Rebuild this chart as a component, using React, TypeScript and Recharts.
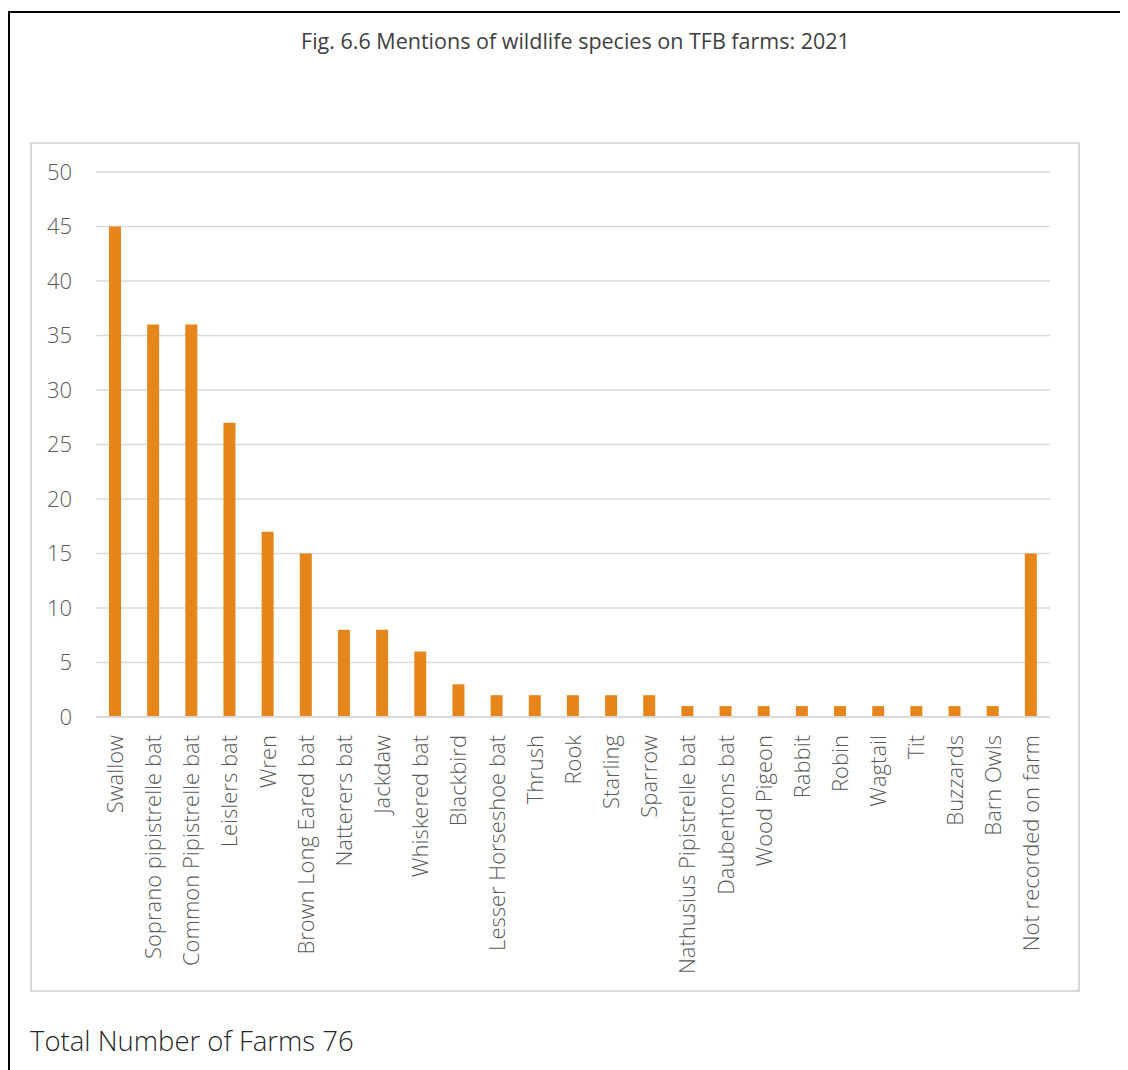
import React from "react";
import { BarChart, Bar, XAxis, YAxis, CartesianGrid } from "recharts";

const species = [
  "Swallow",
  "Soprano pipistrelle bat",
  "Common Pipistrelle bat",
  "Leislers bat",
  "Wren",
  "Brown Long Eared bat",
  "Natterers bat",
  "Jackdaw",
  "Whiskered bat",
  "Blackbird",
  "Lesser Horseshoe bat",
  "Thrush",
  "Rook",
  "Starling",
  "Sparrow",
  "Nathusius Pipistrelle bat",
  "Daubentons bat",
  "Wood Pigeon",
  "Rabbit",
  "Robin",
  "Wagtail",
  "Tit",
  "Buzzards",
  "Barn Owls",
  "Not recorded on farm",
];

const mentions = [45, 36, 36, 27, 17, 15, 8, 8, 6, 3, 2, 2, 2, 2, 2, 1, 1, 1, 1, 1, 1, 1, 1, 1, 15];

const yTicks = [0, 5, 10, 15, 20, 25, 30, 35, 40, 45, 50];

const data = species.map((name, i) => ({ name, value: mentions[i] }));

const FONT = "'Open Sans', 'Noto Sans', sans-serif";
const AXIS_COLOR = "#595959";

const XTick = (props: any) => {
  const { x, y, payload } = props;
  return (
    <g transform={`translate(${x},${y})`}>
      <text
        transform="rotate(-90)"
        textAnchor="end"
        dy="0.36em"
        fill={AXIS_COLOR}
        fontSize={22}
        fontFamily={FONT}
        fontWeight={300}
      >
        {payload.value}
      </text>
    </g>
  );
};

export default function App() {
  return (
    <div style={{ position: "relative", width: 1120, height: 1062, fontFamily: FONT }}>
      <div
        style={{
          position: "absolute",
          left: 0,
          top: 3,
          width: 1120,
          height: 1059,
          borderTop: "2px solid #000",
          borderLeft: "2px solid #000",
          boxSizing: "border-box",
        }}
      />
      <div
        style={{
          position: "absolute",
          left: 0,
          top: 18,
          width: 1135,
          textAlign: "center",
          fontSize: 21.5,
          color: "#404040",
          fontWeight: 400,
        }}
      >
        Fig. 6.6 Mentions of wildlife species on TFB farms: 2021
      </div>
      <div
        style={{
          position: "absolute",
          left: 22,
          top: 134,
          width: 1050,
          height: 850,
          border: "2px solid #d9d9d9",
          boxSizing: "border-box",
          background: "#fff",
        }}
      >
        <div style={{ position: "absolute", left: -2, top: -2 }}>
          <BarChart
            width={1050}
            height={850}
            data={data}
            margin={{ top: 30, right: 30, left: 0, bottom: 0 }}
            barCategoryGap={0}
          >
            <CartesianGrid vertical={false} stroke="#d9d9d9" strokeWidth={1.5} />
            <XAxis
              dataKey="name"
              interval={0}
              height={275}
              tickLine={false}
              tickSize={0}
              tickMargin={18}
              axisLine={{ stroke: "#d9d9d9", strokeWidth: 2 }}
              tick={<XTick />}
            />
            <YAxis
              width={66}
              domain={[0, 50]}
              ticks={yTicks}
              interval={0}
              axisLine={false}
              tickLine={false}
              tickSize={0}
              tickMargin={24}
              tick={{ fill: AXIS_COLOR, fontSize: 22, fontFamily: FONT, fontWeight: 300 }}
            />
            <Bar dataKey="value" fill="#E6861A" barSize={12} isAnimationActive={false} />
          </BarChart>
        </div>
      </div>
      <div
        style={{
          position: "absolute",
          left: 22,
          top: 1014,
          fontSize: 27.5,
          color: "#262626",
          fontWeight: 300,
        }}
      >
        Total Number of Farms 76
      </div>
    </div>
  );
}
